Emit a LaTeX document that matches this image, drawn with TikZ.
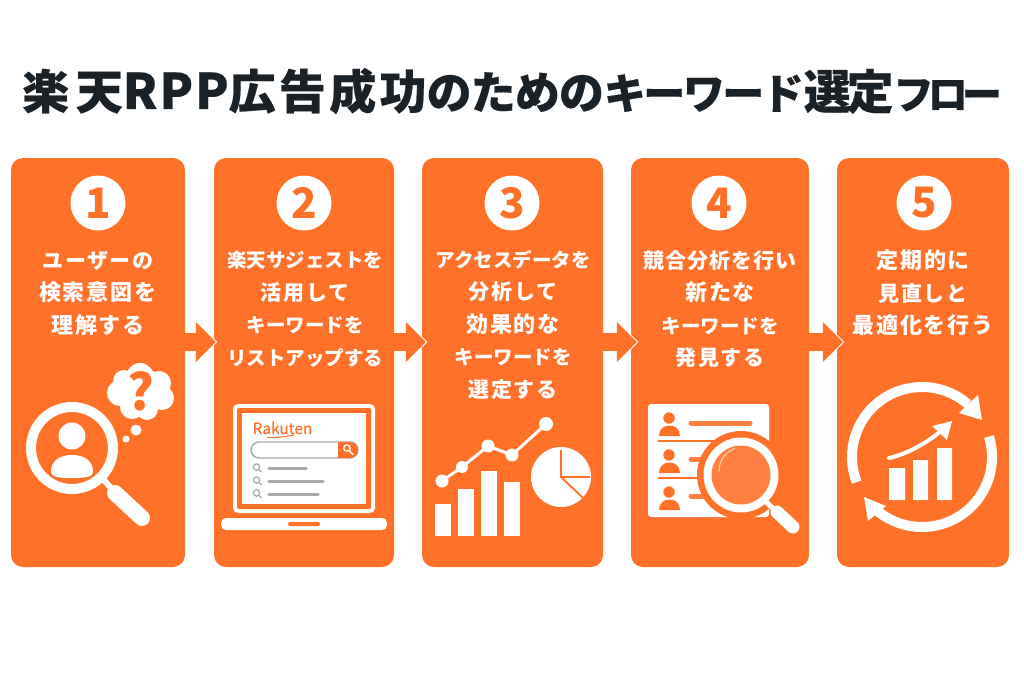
\documentclass[tikz,border=0pt]{standalone}
\usepackage{fontspec}
\setmainfont{Noto Sans CJK JP}
\usetikzlibrary{arrows.meta}

\definecolor{brand}{HTML}{FF7029}
\definecolor{lens}{HTML}{FF8040}
\definecolor{ink}{HTML}{1B2227}
\definecolor{softgray}{HTML}{A9A9A9}

% size, letter spacing, text
\newcommand{\tseg}[3]{{\fontsize{#1}{#1}\selectfont\addfontfeature{LetterSpace=#2}#3}}
\newcommand{\wide}[1]{{\fontsize{21}{32.5}\selectfont\addfontfeature{LetterSpace=8}#1}}
\newcommand{\wider}[1]{{\fontsize{22}{32.5}\selectfont\addfontfeature{LetterSpace=9}#1}}
\newcommand{\midsp}[1]{{\fontsize{21}{32.5}\selectfont\addfontfeature{LetterSpace=5}#1}}

\tikzset{
    panel/.style={fill=brand, rounded corners=12pt, minimum height=409pt, inner sep=0pt},
    badge/.style={circle, fill=white, text=brand, minimum size=55pt, inner sep=0pt,
        font=\fontsize{42}{42}\selectfont\bfseries},
    steptext/.style={text=white, align=center, inner sep=0pt,
        font=\fontsize{19.5}{32.5}\selectfont\bfseries},
    titletext/.style={text=ink, inner sep=0pt, anchor=base west,
        font=\bfseries\addfontfeature{FakeBold=0.4}},
    barbox/.style={fill=white, rounded corners=0.6pt},
    handle/.style={draw=white, line width=16pt, line cap=round},
}

\begin{document}
\begin{tikzpicture}[x=1pt,y=-1pt]
    \useasboundingbox (0,0) rectangle (1024,682);
    \fill[white] (0,0) rectangle (1024,682);

    \node[titletext] (title) at (22,109)
        {\tseg{47}{14}{楽天}\tseg{49}{4}{RPP}\tseg{47}{7}{広告成功}\tseg{45}{-2}{のための}\tseg{42}{-6}{キーワード}\tseg{47}{-9}{選定}\tseg{40}{-14.5}{フロー}};

    % panels and number badges
    \foreach \n/\cx/\w/\bx in {1/98/174/98, 2/304/180/304, 3/512.5/181/512, 4/720/178/719, 5/923/172/924} {
        \node[panel, minimum width=\w pt] (p\n) at (\cx,362.5) {};
        \node[badge] (b\n) at (\bx,203) {\n};
    }

    % arrows between the panels
    \foreach \a/\b/\o in {1/2/2, 2/3/4, 3/4/6, 4/5/6} {
        \draw[white, line width=18pt, shorten >=-\o pt-1.5pt, -{Triangle[length=22pt,width=44pt]}]
            (p\a.east |- 0,342) -- (p\b.west |- 0,342);
        \draw[brand, line width=18pt, shorten >=-\o pt, -{Triangle[length=20pt,width=39pt]}]
            (p\a.east |- 0,342) -- (p\b.west |- 0,342);
    }

    \node[steptext] (t1) at (98,293) {\wide{ユーザーの}\\\wider{検索意図を}\\\wider{理解する}};
    \node[steptext] (t2) at (305,309) {楽天サジェストを\\\wide{活用して}\\キーワードを\\リストアップする};
    \node[steptext] (t3) at (513,325) {アクセスデータを\\\wide{分析して}\\\wider{効果的な}\\キーワードを\\\wide{選定する}};
    \node[steptext] (t4) at (720,309) {\midsp{競合分析を行い}\\\wider{新たな}\\キーワードを\\\wide{発見する}};
    \node[steptext] (t5) at (923,293) {\wider{定期的に}\\\wide{見直しと}\\\wider{最適化を行う}};

    % icon 1
    \draw[white, line width=10pt] (72,448) circle (41);
    \fill[white] (72,436) circle (13.5);
    \fill[white] (51,472) .. controls (51,459) and (62,455) .. (72,455)
        .. controls (82,455) and (93,459) .. (93,472)
        .. controls (93,477) and (85,478) .. (72,478)
        .. controls (59,478) and (51,477) .. (51,472) -- cycle;
    \draw[white, line width=6pt] (104,480) -- (116,494);
    \draw[handle] (115,493) -- (142,518);
    \foreach \cx/\cy/\r in {141/392/24, 140/377/14, 120/393/13, 132/407/12, 147/409/11, 162/398/12, 159/383/12, 124/381/11}
        \fill[white] (\cx,\cy) circle (\r);
    \fill[white] (136,430) circle (5.5);
    \fill[white] (126,439) circle (3.5);
    \node[text=brand, inner sep=0pt, font=\fontsize{50}{50}\selectfont\bfseries] (ask) at (141,391) {?};

    % icon 2
    \fill[white, rounded corners=5pt] (233,404) rectangle (375,513);
    \fill[brand, rounded corners=2pt] (237,408) rectangle (371,509);
    \fill[white] (242,413) rectangle (366,504);
    \fill[white, rounded corners=5pt] (221,518) rectangle (387,530);
    \fill[brand, rounded corners=2pt] (288,522) rectangle (320,526);
    \node[text=brand, inner sep=0pt, font=\fontsize{15.5}{15.5}\selectfont\addfontfeature{FakeBold=0.2}] (brandname) at (282.5,428) {Rakuten};
    \draw[brand, line width=1pt] (267,437.5) .. controls (275,438) and (285,437) .. (294,435);
    \draw[softgray, line width=1.4pt, fill=white, rounded corners=8pt] (251,442) rectangle (358,458);
    \fill[brand, rounded corners=8pt] (338,442) -- (358,442) -- (358,458) -- (338,458) -- cycle;
    \fill[brand] (338,442) rectangle (346,458);
    \draw[white, line width=1.3pt] (347,448) circle (3.2);
    \draw[white, line width=1.5pt] (349.5,451) -- (353,454.5);
    \foreach \y/\xe in {468/306, 481/323, 494/318} {
        \draw[softgray, line width=1.2pt] (256.5,\y-1) circle (3.2);
        \draw[softgray, line width=1.4pt] (259,\y+1.5) -- (261.5,\y+4);
        \draw[softgray, line width=3.5pt, line cap=round] (269,\y+0.5) -- (\xe,\y+0.5);
    }

    % icon 3
    \foreach \xa/\xb/\yt in {435/451/504, 458/474/489, 481/497/471, 504/520/482}
        \fill[white] (\xa,\yt) rectangle (\xb,536);
    \draw[white, line width=3pt] (442,481) -- (462,467) -- (488,446) -- (512,455) -- (546,424);
    \foreach \cx/\cy/\r in {442/481/6.5, 462/467/6, 488/446/6.5, 512/455/6.5, 546/424/7}
        \fill[white] (\cx,\cy) circle (\r);
    \fill[white] (561,477) circle (30);
    \draw[brand, line width=1.8pt] (561,450) -- (561,477) -- (590,477);
    \draw[brand, line width=1.8pt] (561,477) -- (583,498);

    % icon 4
    \fill[white, rounded corners=3pt] (648,404) rectangle (769,517);
    \foreach \y in {418,455,492} {
        \fill[brand] (669,\y) circle (5.7);
        \fill[brand] (659,\y+18) .. controls (659,\y+11) and (664,\y+7.5) .. (669.5,\y+7.5)
            .. controls (675,\y+7.5) and (680,\y+11) .. (680,\y+18) -- cycle;
    }
    \draw[brand, line width=1.5pt] (658,441) -- (720,441);
    \draw[brand, line width=1.5pt] (658,478) -- (720,478);
    \draw[lens, line width=5pt, line cap=round] (691,423) -- (750,423);
    \draw[lens, line width=5pt, line cap=round] (691,459) -- (705,459);
    \draw[lens, line width=5pt, line cap=round] (691,496) -- (705,496);
    \fill[brand] (741,475) circle (44);
    \fill[white] (741,475) circle (37.5);
    \fill[lens] (741,475) circle (29.5);
    \draw[white!70!lens, line width=1pt] (719,471) arc (180:250:24);
    \draw[white, line width=5pt] (764,500) -- (778,513);
    \draw[handle, line width=13pt] (777,512) -- (793,527);

    % icon 5
    \draw[white, line width=10pt] (922,457) ++(159:70) arc (159:311:70);
    \draw[white, line width=10pt] (922,457) ++(-17:70) arc (-17:131:70);
    \fill[white] (959,413) -- (978,395) -- (982,420) -- cycle;
    \fill[white] (864,497) -- (868,521) -- (886,506) -- cycle;
    \foreach \xa/\xb/\yt in {889/905/468, 913/928/460, 937/952/448}
        \fill[barbox] (\xa,\yt) rectangle (\xb,500);
    \draw[white, line width=4pt, line cap=round] (889,458) .. controls (907,454) and (925,444) .. (941,431);
    \fill[white] (932,426) -- (952,421) -- (947,440) -- cycle;
\end{tikzpicture}
\end{document}
